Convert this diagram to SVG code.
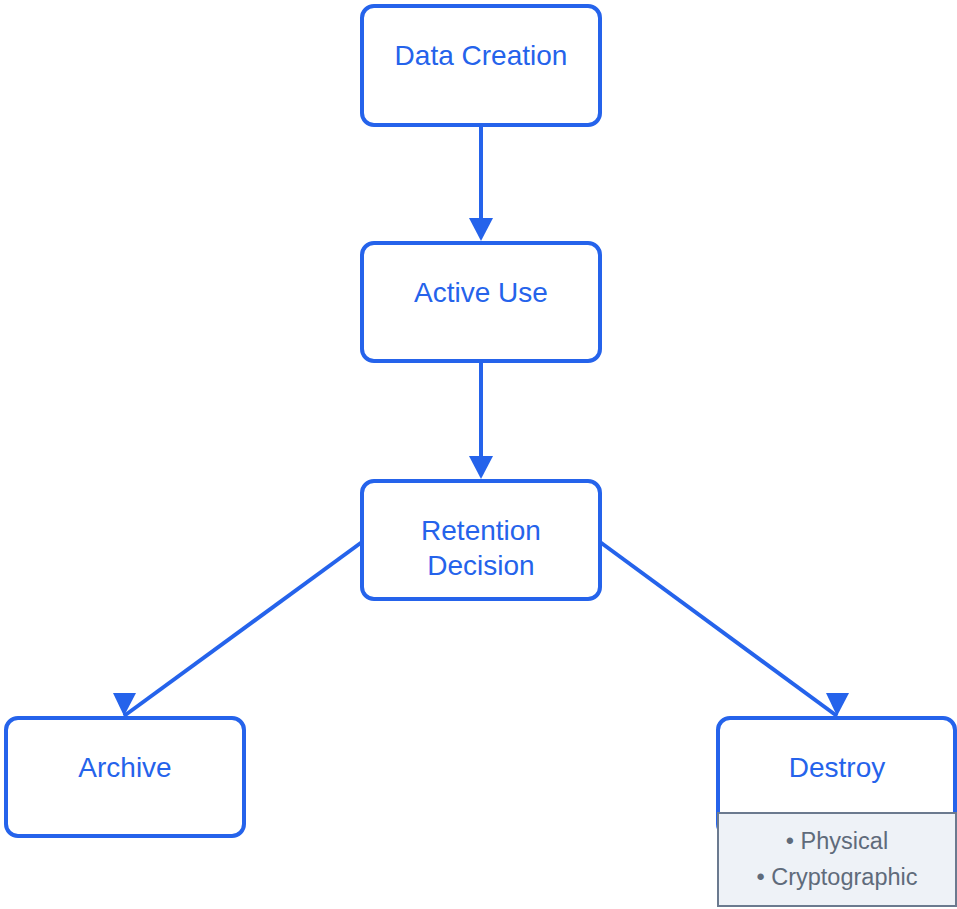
<svg xmlns="http://www.w3.org/2000/svg" width="957" height="909" viewBox="0 0 957 909">
<style>
.box{fill:#ffffff;stroke:#2563eb;stroke-width:4}
.lbl{font-family:"Liberation Sans",Arial,sans-serif;font-size:28px;fill:#2563eb;text-anchor:middle}
.sub{fill:#eef2f7;stroke:#6b7a8f;stroke-width:2}
.item{font-family:"Liberation Sans",Arial,sans-serif;font-size:23.5px;fill:#5f6b7b;text-anchor:middle}
.edge{stroke:#2563eb;stroke-width:4;fill:none}
.head{fill:#2563eb}
</style>
<rect width="957" height="909" fill="#ffffff"/>
<g id="connectors">
<line class="edge" x1="481" y1="125" x2="481" y2="222"/>
<polygon class="head" points="469,218 493,218 481,241"/>
<line class="edge" x1="481" y1="362" x2="481" y2="460"/>
<polygon class="head" points="469,456 493,456 481,479"/>
<line class="edge" x1="362" y1="542" x2="124" y2="716"/>
<polygon class="head" points="113,693 136,693 124,716"/>
<line class="edge" x1="600" y1="542" x2="837" y2="716"/>
<polygon class="head" points="826,693 849,693 837,716"/>
</g>
<g id="data-creation">
<rect class="box" x="362" y="6" width="238" height="119" rx="12"/>
<text class="lbl" x="481" y="65">Data Creation</text>
</g>
<g id="active-use">
<rect class="box" x="362" y="243" width="238" height="118" rx="12"/>
<text class="lbl" x="481" y="302">Active Use</text>
</g>
<g id="retention-decision">
<rect class="box" x="362" y="481" width="238" height="118" rx="12"/>
<text class="lbl" x="481" y="540">Retention</text>
<text class="lbl" x="481" y="575">Decision</text>
</g>
<g id="archive">
<rect class="box" x="6" y="718" width="238" height="118" rx="12"/>
<text class="lbl" x="125" y="777">Archive</text>
</g>
<g id="destroy">
<rect class="box" x="718" y="718" width="237" height="118" rx="12"/>
<text class="lbl" x="837" y="777">Destroy</text>
<rect class="sub" x="718" y="813" width="238" height="93"/>
<text class="item" x="837" y="849">• Physical</text>
<text class="item" x="837" y="885">• Cryptographic</text>
</g>
</svg>
